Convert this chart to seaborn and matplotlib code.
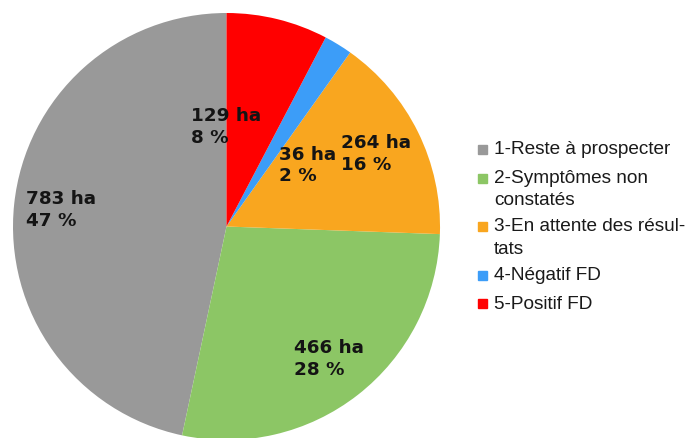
import numpy as np
import matplotlib
matplotlib.use("Agg")
import matplotlib.pyplot as plt
import matplotlib.patches as mpatches
from matplotlib.legend_handler import HandlerPatch
import seaborn as sns

# Données (surfaces en ha)
categories = ["1-Reste à prospecter", "2-Symptômes non constatés",
              "3-En attente des résultats", "4-Négatif FD", "5-Positif FD"]
legend_labels = ["1-Reste à prospecter", "2-Symptômes non\nconstatés",
                 "3-En attente des résul-\ntats", "4-Négatif FD", "5-Positif FD"]
surfaces = [783, 466, 264, 36, 129]
colors = ["#999999", "#8cc665", "#f9a61f", "#3c9df8", "#ff0000"]

sns.set_theme(style="white")
plt.rcParams["font.family"] = ["DejaVu Sans"]

fig = plt.figure(figsize=(6.91, 4.39), dpi=100)
ax = fig.add_axes([0.0188, -0.0046, 0.618, 0.9727])

wedges, _ = ax.pie(surfaces, colors=colors, startangle=90, counterclock=True,
                   radius=1.0, wedgeprops=dict(linewidth=0))
ax.set_xlim(-1, 1)
ax.set_ylim(-1, 1)
ax.set_aspect("equal")
ax.axis("off")

total = sum(surfaces)
# petites parts : étiquette déplacée (angle, rayon)
overrides = {"5-Positif FD": (90, 0.47), "4-Négatif FD": (37.4, 0.48)}
for w, cat, val in zip(wedges, categories, surfaces):
    ang, r = overrides.get(cat, ((w.theta1 + w.theta2) / 2, 0.78))
    x = r * np.cos(np.radians(ang))
    y = r * np.sin(np.radians(ang))
    pct = round(100 * val / total)
    ax.text(x, y, f"{val} ha\n{pct} %", ha="center", va="center",
            multialignment="left", fontsize=13.2, fontweight="bold",
            color="#141414", linespacing=1.25)


def square(legend, orig_handle, xdescent, ydescent, width, height, fontsize):
    s = 0.47 * fontsize
    return mpatches.Rectangle((-xdescent + (width - s) / 2, -ydescent + (height - s) / 2), s, s)


handles = [mpatches.Patch(color=c, label=l) for c, l in zip(colors, legend_labels)]
leg = fig.legend(handles=handles, loc="center left", bbox_to_anchor=(0.678, 0.481),
                 frameon=False, prop=dict(family="Liberation Sans", size=13.7),
                 handlelength=0.5, handleheight=1.15, handletextpad=0.35,
                 labelspacing=0.5, borderpad=0,
                 handler_map={mpatches.Patch: HandlerPatch(patch_func=square)})
for t in leg.get_texts():
    t.set_color("#1a1a1a")
    t.set_linespacing(1.4)
for col in leg._legend_handle_box.get_children():
    for item in col.get_children():
        item.align = "top"

fig.savefig("out.png", dpi=100)
